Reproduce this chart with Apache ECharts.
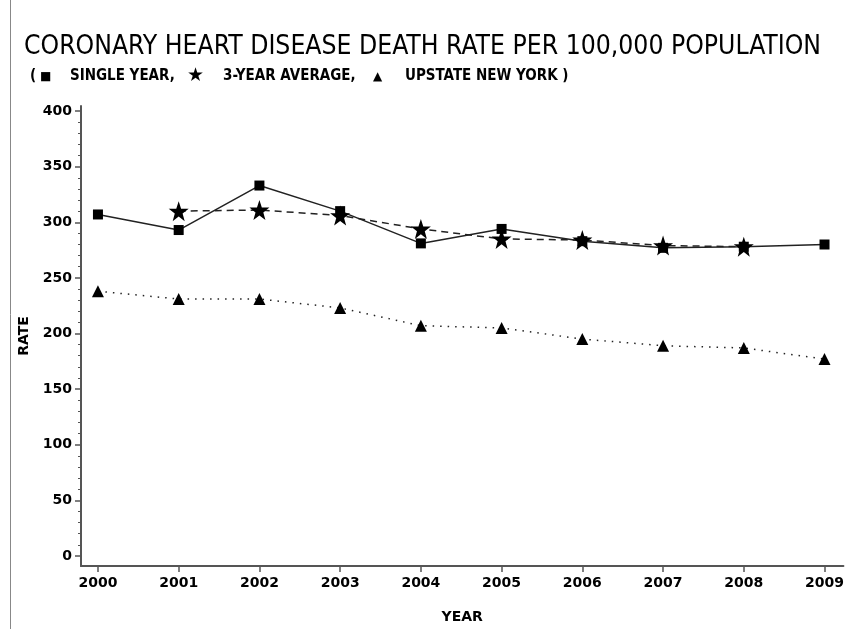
<!DOCTYPE html>
<html>
<head>
<meta charset="utf-8">
<script src="https://cdn.jsdelivr.net/npm/echarts@6/dist/echarts.min.js"></script>
<style>html,body{margin:0;padding:0;background:#fff;}#c{width:847px;height:629px;}</style>
</head>
<body>
<div id="c"></div>
<script>
const years = [2000, 2001, 2002, 2003, 2004, 2005, 2006, 2007, 2008, 2009];
const singleYear = [307, 293, 333, 310, 281, 294, 283, 277, 278, 280];
const threeYearAvg = [null, 310, 311, 306, 294, 285, 284, 279, 278, null];
const upstateNY = [238, 231, 231, 223, 207, 205, 195, 189, 187, 177];
const yTickLabels = [0, 50, 100, 150, 200, 250, 300, 350, 400];
const yMinorTicks = [];
for (let v = 10; v < 400; v += 10) if (v % 50 !== 0) yMinorTicks.push(v);

const pairs = arr => years.map((y, i) => [y, arr[i]]);
const chart = echarts.init(document.getElementById('c'));
const lblFont = { fontFamily: 'DejaVu Sans', fontWeight: 'bold', fontSize: 14, color: '#000' };
const subFont = { fontFamily: 'DejaVu Sans Condensed', fontWeight: 'bold', fontSize: 15, color: '#000' };
chart.setOption({
  animation: false,
  backgroundColor: '#fff',
  title: [{
    text: 'CORONARY HEART DISEASE DEATH RATE PER 100,000 POPULATION',
    left: 19, top: 29,
    textStyle: { fontFamily: 'DejaVu Sans Condensed', fontWeight: 'normal', fontSize: 26.3, color: '#000' }
  }, {
    text: '{p|(}{sq|\u25A0}{t1|SINGLE YEAR,}{st|\u2605}{t2|3-YEAR AVERAGE,}{tr|\u25B2}{t3|UPSTATE NEW YORK )}',
    left: 25, top: 62,
    textStyle: {
      rich: {
        p: Object.assign({}, subFont, { width: 10 }),
        sq: { fontFamily: 'DejaVu Sans', fontSize: 12, color: '#000', width: 30 },
        t1: Object.assign({}, subFont, { width: 117 }),
        st: { fontFamily: 'DejaVu Sans', fontSize: 19, color: '#000', width: 36 },
        t2: Object.assign({}, subFont, { width: 150 }),
        tr: { fontFamily: 'DejaVu Sans', fontSize: 12, color: '#000', width: 32 },
        t3: subFont
      }
    }
  }],
  graphic: [{
    type: 'line', shape: { x1: 10.5, y1: 0, x2: 10.5, y2: 629 },
    style: { stroke: '#888', lineWidth: 1 }
  }],
  grid: { left: 81, right: 0, top: 106, bottom: 62 },
  xAxis: {
    type: 'value', min: 1999.79, max: 2009.234,
    name: 'YEAR', nameLocation: 'middle', nameGap: 44,
    nameTextStyle: lblFont,
    axisLine: { show: true, onZero: false, lineStyle: { color: '#555', width: 2 } },
    axisTick: { show: true, customValues: years, length: 6, lineStyle: { color: '#555', width: 1.5 } },
    axisLabel: Object.assign({ customValues: years, margin: 10, formatter: v => String(v) }, lblFont),
    splitLine: { show: false }
  },
  yAxis: [{
    type: 'value', min: -9, max: 404.5,
    name: 'RATE', nameLocation: 'middle', nameGap: 50, nameRotate: 90,
    nameTextStyle: lblFont,
    axisLine: { show: true, onZero: false, lineStyle: { color: '#555', width: 2 } },
    axisTick: { show: true, customValues: yTickLabels, length: 6, lineStyle: { color: '#555', width: 1.5 } },
    axisLabel: Object.assign({ customValues: yTickLabels, margin: 9 }, lblFont),
    splitLine: { show: false }
  }, {
    type: 'value', min: -9, max: 404.5, position: 'left',
    axisLine: { show: false, onZero: false },
    axisTick: { show: true, customValues: yMinorTicks, length: 3, lineStyle: { color: '#555', width: 1 } },
    axisLabel: { show: false },
    splitLine: { show: false }
  }],
  series: [{
    name: 'SINGLE YEAR', type: 'line', data: pairs(singleYear),
    symbol: 'rect', symbolSize: 10, itemStyle: { color: '#000' },
    lineStyle: { color: '#222', width: 1.5, type: 'solid' }
  }, {
    name: '3-YEAR AVERAGE', type: 'line', data: pairs(threeYearAvg), connectNulls: false,
    symbol: 'path://M50,0 L61.8,35.1 L98.9,35.1 L69.1,57.3 L79.4,92.7 L50,71.3 L20.6,92.7 L30.9,57.3 L1.1,35.1 L38.2,35.1 Z',
    symbolSize: 20, itemStyle: { color: '#000' },
    lineStyle: { color: '#222', width: 1.5, type: [7, 5] }
  }, {
    name: 'UPSTATE NEW YORK', type: 'line', data: pairs(upstateNY),
    symbol: 'triangle', symbolSize: 12, itemStyle: { color: '#000' },
    lineStyle: { color: '#222', width: 1.5, type: [1.5, 6] }
  }]
});
</script>
</body>
</html>
